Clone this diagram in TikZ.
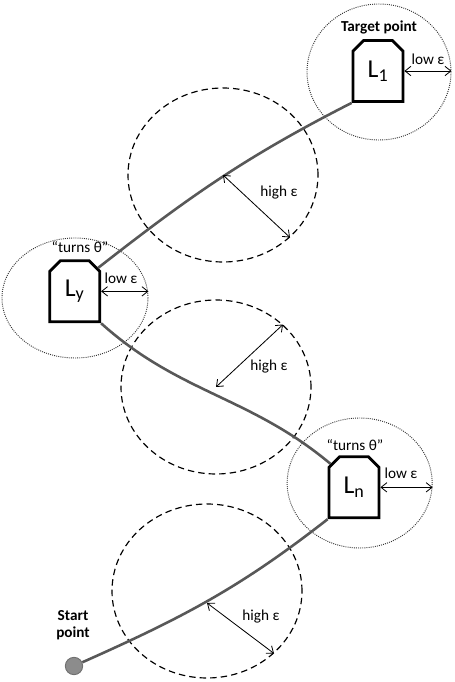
\documentclass[tikz,border=0pt]{standalone}
\usepackage{fontspec}
\setmainfont{Carlito}
\usepackage{tikz}
\usetikzlibrary{positioning}
\usetikzlibrary{arrows.meta}
\usetikzlibrary{shapes.geometric, shapes.misc}
\tikzstyle{every zone} = [inner sep=0pt]
\tikzstyle{landmark} = [chamfered rectangle, chamfered rectangle corners={north west, north east},
  chamfered rectangle xsep=4.5pt, chamfered rectangle ysep=4.5pt, draw, line width=2.4pt, fill=white,
  minimum width=1.5cm, minimum height=1.83cm, inner sep=0pt, font=\fontsize{22}{24}\selectfont]
\definecolor{route}{RGB}{88,88,88}
\definecolor{startfill}{RGB}{140,140,140}

\begin{document}
\begin{tikzpicture}

        \tikzstyle{txt} = [font=\fontsize{13}{15}\selectfont, inner sep=0pt, align=center]
        \tikzstyle{near zone} = [ellipse, draw=black!80, line width=0.8pt, densely dotted, every zone]
        \tikzstyle{far zone} = [ellipse, draw, line width=1pt, dash pattern=on 5.5pt off 3.5pt,
          minimum width=5.7cm, minimum height=5.22cm, every zone]
        \tikzstyle{route line} = [draw=route, line width=2.2pt]
        \tikzstyle{eps} = [<->, >={Straight Barb[length=5pt,width=8pt]}, line width=0.7pt]

        \useasboundingbox (0,0) rectangle (13.62,20.46);

        % zones round the landmarks
        \node[near zone, minimum width=4.32cm, minimum height=4.08cm] (zoneA) at (11.37,18.30) {};
        \node[near zone, minimum width=4.38cm, minimum height=3.6cm] (zoneB) at (2.25,11.52) {};
        \node[near zone, minimum width=4.35cm, minimum height=3.9cm] (zoneC) at (10.79,5.97) {};

        \node[far zone] (farA) at (6.69,15.21) {};
        \node[far zone] (farB) at (6.48,8.85) {};
        \node[far zone] (farC) at (6.21,2.73) {};

        % landmarks
        \node[landmark] (L1) at (11.34,18.33) {L\textsubscript{1}};
        \node[landmark] (Ly) at (2.24,11.72) {L\textsubscript{y}};
        \node[landmark] (Ln) at (10.62,5.84) {L\textsubscript{n}};

        \node[circle, fill=startfill, draw=startfill!80!black, line width=0.8pt,
          minimum size=0.52cm, inner sep=0pt] (start) at (2.22,0.48) {};

        % route
        \draw[route line] (start) to[out=24, in=-142] (Ln.south west);
        \draw[route line] (Ln.135) to[out=140, in=-42] (Ly.south east);
        \draw[route line] (Ly.45) to[out=38, in=-153] (L1.south west);

        % low epsilon
        \draw[eps] (L1.east) -- (L1.east -| zoneA.east);
        \draw[eps] (Ly.east) -- (Ly.east -| zoneB.east);
        \draw[eps] (Ln.east) -- (Ln.east -| zoneC.east);
        \node[txt] (lowA) at (12.84,18.69) {low ε};
        \node[txt] (lowB) at (3.63,12.12) {low ε};
        \node[txt] (lowC) at (12.03,6.27) {low ε};

        % high epsilon
        \coordinate (hiC) at ([yshift=-0.36cm]farC.center);
        \draw[eps] (farA.center) -- (farA.-43);
        \draw[eps] (farB.center) -- (farB.43);
        \draw[eps] (hiC) -- (farC.-43);
        \node[txt] (highA) at (8.37,14.67) {high ε};
        \node[txt] (highB) at (8.07,9.45) {high ε};
        \node[txt] (highC) at (7.83,1.95) {high ε};

        \node[txt, font=\fontsize{13}{15}\selectfont\bfseries] (target) at (11.37,19.65) {Target point};
        \node[txt] (turnsY) at (2.40,13.05) {“turns θ”};
        \node[txt] (turnsN) at (10.65,7.11) {“turns θ”};
        \node[txt, font=\fontsize{13}{15}\selectfont\bfseries] (startlbl) at (2.19,1.71) {Start\\point};

    \end{tikzpicture}
\end{document}
